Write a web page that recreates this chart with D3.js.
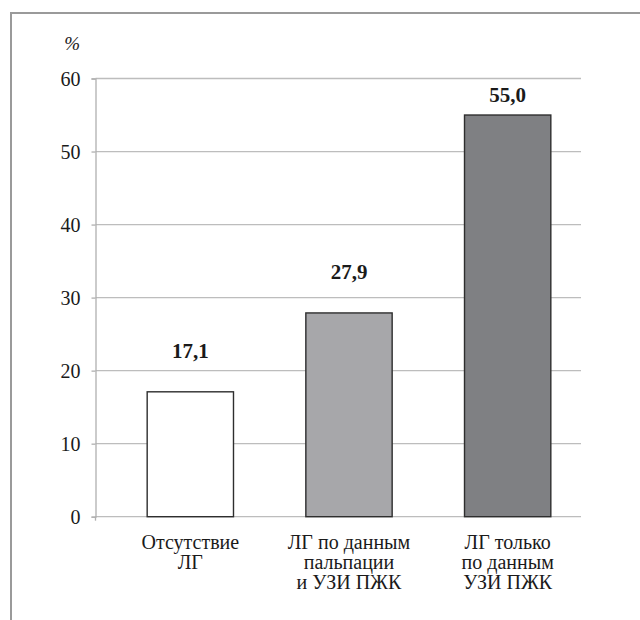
<!DOCTYPE html>
<html>
<head>
<meta charset="utf-8">
<script src="https://cdn.jsdelivr.net/npm/d3@7"></script>
<style>
  html, body { margin: 0; padding: 0; background: #fff; }
  svg { display: block; }
</style>
</head>
<body>
<svg id="chart" width="640" height="620"></svg>
<script>
// Доля пациентов по группам, %
const categories = [
  ["Отсутствие", "ЛГ"],
  ["ЛГ по данным", "пальпации", "и УЗИ ПЖК"],
  ["ЛГ только", "по данным", "УЗИ ПЖК"]
];
const values = [17.1, 27.9, 55.0];
const valueLabels = ["17,1", "27,9", "55,0"];
const yTicks = [0, 10, 20, 30, 40, 50, 60];
const barFills = ["#ffffff", "#a7a7aa", "#7f8083"];

const FONT = "'Liberation Serif', 'Times New Roman', serif";
const svg = d3.select("#chart");

// outer frame (top and left edges)
svg.append("line").attr("x1", 11).attr("x2", 640).attr("y1", 13).attr("y2", 13)
  .attr("stroke", "#9a9a9a").attr("stroke-width", 2);
svg.append("line").attr("x1", 11).attr("x2", 11).attr("y1", 12).attr("y2", 620)
  .attr("stroke", "#9a9a9a").attr("stroke-width", 2);

const plot = { left: 95.5, right: 581, top: 78.5, bottom: 516.7 };

const y = d3.scaleLinear().domain([0, 60]).range([plot.bottom, plot.top]);
const x = d3.scaleBand().domain(d3.range(values.length))
  .range([111, 587]).paddingInner(0.456).paddingOuter(0.228);

// horizontal gridlines
svg.append("g").selectAll("line").data(yTicks).join("line")
  .attr("x1", plot.left).attr("x2", plot.right)
  .attr("y1", d => y(d)).attr("y2", d => y(d))
  .attr("stroke", "#bdbdbd").attr("stroke-width", 1.3);

// y axis
const yAxis = svg.append("g").attr("transform", `translate(${plot.left},0)`)
  .call(d3.axisLeft(y).tickValues(yTicks).tickSize(4).tickPadding(11).tickFormat(d3.format("d")));
yAxis.select(".domain").attr("stroke", "#b0b0b0").attr("stroke-width", 1.3);
yAxis.selectAll(".tick line").attr("stroke", "#b0b0b0").attr("stroke-width", 1.3);
yAxis.selectAll(".tick text").style("font-family", FONT).style("font-size", "20px")
  .attr("fill", "#1a1a1a").attr("dy", "0.34em");
// small tick below the origin
svg.append("line").attr("x1", plot.left).attr("x2", plot.left)
  .attr("y1", plot.bottom).attr("y2", plot.bottom + 4)
  .attr("stroke", "#b0b0b0").attr("stroke-width", 1.3);

// unit label
svg.append("text").attr("x", 80).attr("y", 50).attr("text-anchor", "end")
  .attr("fill", "#1a1a1a")
  .style("font-family", FONT).style("font-size", "19px").style("font-style", "italic").text("%");

// bars
svg.append("g").selectAll("rect").data(values).join("rect")
  .attr("x", (d, i) => x(i)).attr("width", x.bandwidth())
  .attr("y", d => y(d)).attr("height", d => y(0) - y(d))
  .attr("fill", (d, i) => barFills[i])
  .attr("stroke", "#2e2e2e").attr("stroke-width", 1.4);

// value labels above bars, kept below the top gridline
svg.append("g").selectAll("text").data(values).join("text")
  .attr("x", (d, i) => x(i) + x.bandwidth() / 2)
  .attr("y", d => Math.max(y(d) - 34, plot.top + 23))
  .attr("text-anchor", "middle").attr("fill", "#1a1a1a")
  .style("font-family", FONT).style("font-size", "21px").style("font-weight", "bold")
  .text((d, i) => valueLabels[i]);

// category labels
const cat = svg.append("g").selectAll("text").data(categories).join("text")
  .attr("x", (d, i) => x(i) + x.bandwidth() / 2)
  .attr("y", plot.bottom + 32)
  .attr("text-anchor", "middle")
  .style("font-family", FONT).style("font-size", "20px").attr("fill", "#1a1a1a");
cat.selectAll("tspan").data(d => d).join("tspan")
  .attr("x", function () { return d3.select(this.parentNode).attr("x"); })
  .attr("dy", (d, j) => j === 0 ? 0 : 20)
  .text(d => d);
</script>
</body>
</html>
